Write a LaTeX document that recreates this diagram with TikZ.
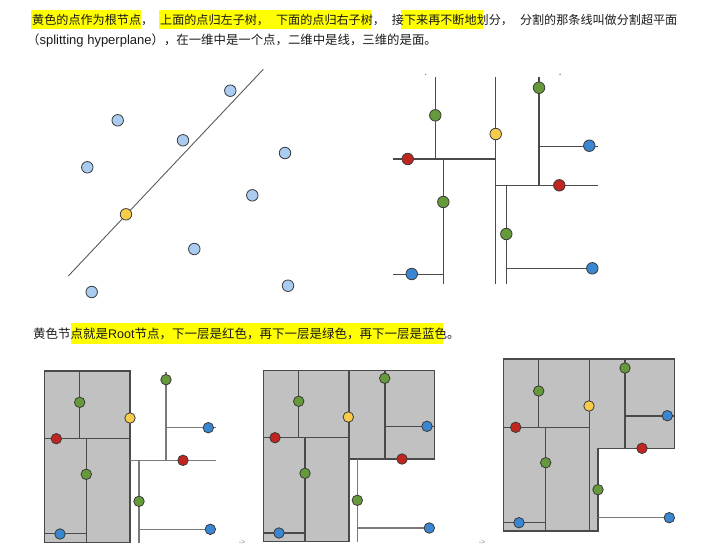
\documentclass[tikz,border=0pt]{standalone}
\usepackage{fontspec}
\setmainfont{Noto Sans CJK SC}
\newfontfamily\latinf{Liberation Sans}
\definecolor{hlyellow}{HTML}{FFFF00}
\definecolor{ptborder}{HTML}{3A3A3A}
\definecolor{ltblue}{HTML}{A9CCF0}
\definecolor{ptyellow}{HTML}{F7CC4A}
\definecolor{ptred}{HTML}{C0251F}
\definecolor{ptgreen}{HTML}{66993A}
\definecolor{ptblue}{HTML}{3A86D0}
\definecolor{partgray}{HTML}{C1C1C1}
\definecolor{dline}{HTML}{4A4A4A}
\definecolor{lline}{HTML}{7A7A7A}
\definecolor{txt}{HTML}{1A1A1A}
\tikzset{
  pt/.style={circle, draw=ptborder, line width=0.8pt, inner sep=0pt, minimum size=11.5pt},
  lb/.style={pt, fill=ltblue},
  yel/.style={pt, fill=ptyellow},
  rd/.style={pt, fill=ptred},
  gr/.style={pt, fill=ptgreen},
  bl/.style={pt, fill=ptblue},
  spt/.style={pt, minimum size=10.5pt},
  hlbox/.style={fill=hlyellow, draw=none},
  txtnode/.style={anchor=base west, inner sep=0pt, text=txt},
  sepline/.style={draw=dline, line width=1.3pt},
  thinline/.style={draw=dline!90, line width=0.9pt},
  outline/.style={draw=lline, line width=1.2pt},
  region/.style={fill=partgray, draw=dline, line width=1.4pt},
  arrowtxt/.style={anchor=center, inner sep=0pt, text=gray, font=\latinf\fontsize{7pt}{8pt}\selectfont}
}
\begin{document}
\begin{tikzpicture}[x=1pt,y=-1pt]
\useasboundingbox (0,0) rectangle (708,558);
% ---------- text ----------
\fill[hlbox] (31,10) rectangle (140.5,29);
\fill[hlbox] (159,10) rectangle (371,29);
\fill[hlbox] (401,10) rectangle (483,29);
\node[txtnode, font=\fontsize{12.1pt}{14pt}\selectfont] (t1) at (32,24.7)
 {黄色的点作为根节点，\hspace{7pt}上面的点归左子树，\hspace{7pt}下面的点归右子树，\hspace{7pt}接下来再不断地划分，\hspace{7pt}分割的那条线叫做分割超平面};
\node[txtnode, font=\fontsize{12.4pt}{14pt}\selectfont] (t2) at (27,44.5)
 {（{\latinf\fontsize{13pt}{14pt}\selectfont splitting hyperplane}），在一维中是一个点，二维中是线，三维的是面。};
\fill[hlbox] (71,323) rectangle (443,344);
\node[txtnode, font=\fontsize{12.5pt}{15pt}\selectfont] (t3) at (33,338)
 {黄色节点就是{\latinf Root}节点，下一层是红色，再下一层是绿色，再下一层是蓝色。};
% ---------- diagram 1 ----------
\coordinate (h1) at (68.3,276);
\coordinate (h2) at (263.3,69.3);
\draw[thinline] (h1) -- (h2);
\node[lb] (a1) at (230.3,90.7) {};
\node[lb] (a2) at (117.7,120.3) {};
\node[lb] (a3) at (183,140.3) {};
\node[lb] (a4) at (285,153) {};
\node[lb] (a5) at (87.3,167.3) {};
\node[lb] (a6) at (252.3,195.3) {};
\node[lb] (a7) at (194.3,249) {};
\node[lb] (a8) at (91.7,292) {};
\node[lb] (a9) at (288,285.7) {};
\node[yel] (a0) at (126,214.3) {};
% ---------- diagram 2 ----------
\fill[lline] (425.7,74.3) circle (0.7pt);
\fill[lline] (560,74.3) circle (0.8pt);
\draw[sepline] (435.3,77.3) -- (435.3,159);
\draw[sepline] (393.3,159) -- (495.7,159);
\draw[sepline] (495.7,77.3) -- (495.7,284);
\draw[sepline] (443.3,159) -- (443.3,284);
\draw[sepline] (393.3,274.3) -- (443.3,274.3);
\draw[sepline] (495.7,185.3) -- (598.3,185.3);
\draw[sepline] (539,77.3) -- (539,185.3);
\draw[sepline] (539,146.3) -- (598.3,146.3);
\draw[sepline] (506.3,185.3) -- (506.3,284);
\draw[sepline] (506.3,268.3) -- (592.7,268.3);
\node[gr] (b1) at (435.3,115.3) {};
\node[yel] (b0) at (495.7,134) {};
\node[gr] (b2) at (539,87.7) {};
\node[bl] (b3) at (589.3,145.7) {};
\node[rd] (b4) at (407.7,159) {};
\node[rd] (b5) at (559.3,185.3) {};
\node[gr] (b6) at (443.3,202) {};
\node[gr] (b7) at (506.3,234) {};
\node[bl] (b8) at (411.7,274) {};
\node[bl] (b9) at (592.3,268.3) {};
% ---------- diagram 3 ----------
\draw[region] (44.7,371) rectangle (130,542.3);
\draw[sepline] (79.7,371) -- (79.7,438.7);
\draw[sepline] (44.7,438.7) -- (130,438.7);
\draw[sepline] (86.3,438.7) -- (86.3,542.3);
\draw[sepline] (44.7,533.7) -- (86.3,533.7);
\draw[outline] (130,460.3) -- (215.7,460.3);
\draw[outline] (166,371.7) -- (166,460.3);
\draw[outline] (166,427.7) -- (215.7,427.7);
\draw[outline] (139,460.3) -- (139,542.7);
\draw[outline] (139,529.3) -- (210.3,529.3);
\node[spt, fill=ptgreen] (c1) at (79.7,402.3) {};
\node[spt, fill=ptyellow] (c0) at (130,418) {};
\node[spt, fill=ptgreen] (c2) at (166,379.7) {};
\node[spt, fill=ptblue] (c3) at (208.3,427.7) {};
\node[spt, fill=ptred] (c4) at (56.3,438.7) {};
\node[spt, fill=ptred] (c5) at (183,460.3) {};
\node[spt, fill=ptgreen] (c6) at (86.3,474.3) {};
\node[spt, fill=ptgreen] (c7) at (139,501.3) {};
\node[spt, fill=ptblue] (c8) at (60,534) {};
\node[spt, fill=ptblue] (c9) at (210.3,529.3) {};
\node[arrowtxt] (arr1) at (242,542.5) {->};
% ---------- diagram 4 ----------
\draw[region] (263.3,370.3) -- (434.3,370.3) -- (434.3,459) -- (349,459) -- (349,541.7) -- (263.3,541.7) -- cycle;
\draw[sepline] (298.7,370.3) -- (298.7,437.7);
\draw[sepline] (263.3,437.7) -- (349,437.7);
\draw[sepline] (305,437.7) -- (305,541.7);
\draw[sepline] (263.3,533) -- (305,533);
\draw[sepline] (349,370.3) -- (349,541.7);
\draw[sepline] (385,370.3) -- (385,459);
\draw[sepline] (385,426.7) -- (434.3,426.7);
\draw[outline] (357.3,459) -- (357.3,541.7);
\draw[outline] (357.3,528) -- (429.3,528);
\node[spt, fill=ptgreen] (d1) at (298.7,401.3) {};
\node[spt, fill=ptyellow] (d0) at (348.3,417) {};
\node[spt, fill=ptgreen] (d2) at (384.7,378.3) {};
\node[spt, fill=ptblue] (d3) at (427,426.3) {};
\node[spt, fill=ptred] (d4) at (275,437.7) {};
\node[spt, fill=ptred] (d5) at (402,459) {};
\node[spt, fill=ptgreen] (d6) at (305,473.3) {};
\node[spt, fill=ptgreen] (d7) at (357.3,500.3) {};
\node[spt, fill=ptblue] (d8) at (279,533) {};
\node[spt, fill=ptblue] (d9) at (429.3,528) {};
\node[arrowtxt] (arr2) at (482,542.5) {->};
% ---------- diagram 5 ----------
\draw[region] (503.7,359) -- (674.7,359) -- (674.7,448.3) -- (598,448.3) -- (598,531) -- (503.7,531) -- cycle;
\draw[sepline] (538.7,359) -- (538.7,427.3);
\draw[sepline] (503.7,427.3) -- (589.3,427.3);
\draw[sepline] (545.7,427.3) -- (545.7,531);
\draw[sepline] (503.7,522.7) -- (545.7,522.7);
\draw[sepline] (589.3,359) -- (589.3,531);
\draw[sepline] (625,359) -- (625,448.3);
\draw[sepline] (625,416) -- (674.7,416);
\draw[outline, line width=0.9pt] (598,517.7) -- (669.3,517.7);
\node[spt, fill=ptgreen] (e1) at (538.7,391) {};
\node[spt, fill=ptyellow] (e0) at (589,406) {};
\node[spt, fill=ptgreen] (e2) at (625,368) {};
\node[spt, fill=ptblue] (e3) at (667.3,415.7) {};
\node[spt, fill=ptred] (e4) at (515.7,427.3) {};
\node[spt, fill=ptred] (e5) at (642,448.3) {};
\node[spt, fill=ptgreen] (e6) at (545.7,462.7) {};
\node[spt, fill=ptgreen] (e7) at (598,489.7) {};
\node[spt, fill=ptblue] (e8) at (519,522.7) {};
\node[spt, fill=ptblue] (e9) at (669.3,517.7) {};
\end{tikzpicture}
\end{document}
